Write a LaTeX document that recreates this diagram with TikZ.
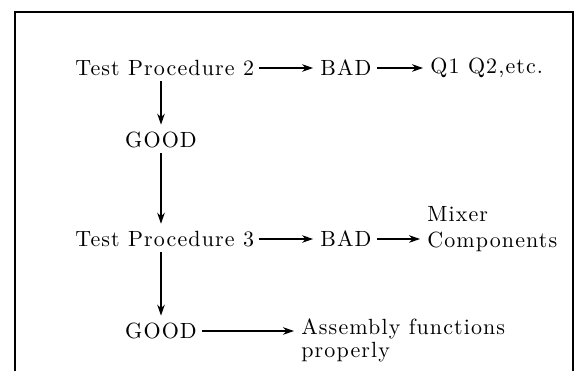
\documentclass[tikz,border=0pt]{standalone}
\usepackage{fontspec}
\newfontfamily\flfont{lmroman10-regular}[Extension=.otf, LetterSpace=5]
\usepackage{tikz}
\usetikzlibrary{arrows.meta, positioning, calc}
\tikzset{
  fl/txt/.style={inner sep=2.5pt, font=\flfont\fontsize{11}{13}\selectfont},
  fl/lst/.style={fl/txt, align=left},
  fl/arr/.style={-{Stealth[length=5.5pt,width=3.8pt]}, line width=0.6pt,
    shorten >=1pt},
  fl/frame/.style={line width=0.8pt}
}
\begin{document}
\begin{tikzpicture}[x=0.5pt, y=-0.5pt]
  \useasboundingbox (0,0) rectangle (579,371);
  % Marco abierto por abajo
  \draw[fl/frame] (15,371) -- (15,12) -- (573,12) -- (573,371);

  % Primera prueba
  \node[fl/txt, anchor=west] at (70,68)  (tp2)   {Test Procedure 2};
  \node[fl/txt]              at (346,68) (bad2)  {BAD};
  \node[fl/txt, anchor=west] at (425,68) (res2)  {Q1 Q2,etc.};
  \node[fl/txt]              at (161,140) (good1) {GOOD};

  % Segunda prueba
  \node[fl/txt, anchor=west] at (70,239)  (tp3)  {Test Procedure 3};
  \node[fl/txt]              at (346,239) (bad3) {BAD};
  \node[fl/lst, anchor=west, font=\flfont\fontsize{11}{13}\selectfont]
        at (422,229) (mix) {Mixer\\Components};
  \node[fl/txt]              at (161,331) (good2) {GOOD};
  \node[fl/lst, anchor=west, font=\flfont\fontsize{11}{11.5}\selectfont]
        at (296,340) (asm) {Assembly functions\\properly};

  % --- Flechas ---
  \draw[fl/arr] (tp2) -- (bad2);
  \draw[fl/arr] (bad2) -- (res2);
  \draw[fl/arr] (good1 |- tp2.south) -- (good1);
  \draw[fl/arr] (good1) -- (good1 |- tp3.north);
  \draw[fl/arr] (tp3) -- (bad3);
  \draw[fl/arr] (bad3) -- (bad3 -| mix.west);
  \draw[fl/arr] (good1 |- tp3.south) -- (good2);
  \draw[fl/arr] (good2) -- (good2 -| asm.west);
\end{tikzpicture}
\end{document}
